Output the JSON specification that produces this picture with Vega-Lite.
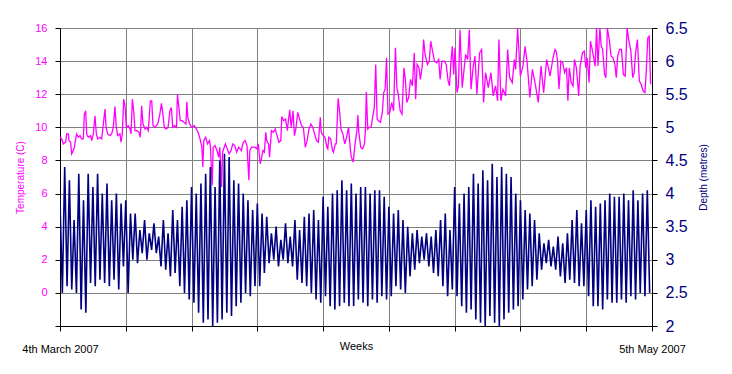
{
  "$schema": "https://vega.github.io/schema/vega-lite/v6.json",
  "width": 592,
  "height": 298,
  "autosize": {"type": "none"},
  "padding": {"left": 60, "top": 28, "right": 80, "bottom": 48},
  "background": "#ffffff",
  "config": {"view": {"stroke": null}, "font": "Liberation Sans"},
  "datasets": {
    "temp": [
      {"day":0,"temp":9.4},{"day":0.18,"temp":9.3},{"day":0.35,"temp":9.0},{"day":0.6,"temp":9.1},{"day":0.71,"temp":9.6},{"day":0.89,"temp":9.6},{"day":0.96,"temp":9.2},{"day":1.13,"temp":9.1},{"day":1.24,"temp":8.4},{"day":1.42,"temp":8.6},{"day":1.53,"temp":8.8},{"day":1.67,"temp":9.3},{"day":1.77,"temp":9.6},{"day":1.95,"temp":9.4},{"day":2.13,"temp":9.5},{"day":2.3,"temp":9.3},{"day":2.48,"temp":9.3},{"day":2.59,"temp":10.8},{"day":2.73,"temp":11.0},{"day":2.84,"temp":9.6},{"day":3.01,"temp":9.4},{"day":3.26,"temp":9.5},{"day":3.37,"temp":9.2},{"day":3.55,"temp":9.6},{"day":3.72,"temp":10.7},{"day":3.87,"temp":9.6},{"day":4.01,"temp":9.3},{"day":4.26,"temp":9.4},{"day":4.44,"temp":9.3},{"day":4.61,"temp":10.2},{"day":4.79,"temp":11.1},{"day":4.9,"temp":10.0},{"day":5.07,"temp":9.6},{"day":5.32,"temp":9.5},{"day":5.5,"temp":9.6},{"day":5.67,"temp":10.0},{"day":5.85,"temp":11.25},{"day":5.99,"temp":10.0},{"day":6.14,"temp":9.5},{"day":6.38,"temp":9.6},{"day":6.49,"temp":9.1},{"day":6.63,"temp":9.6},{"day":6.78,"temp":11.7},{"day":6.92,"temp":11.3},{"day":7.06,"temp":10.0},{"day":7.27,"temp":10.1},{"day":7.45,"temp":9.9},{"day":7.56,"temp":9.6},{"day":7.7,"temp":11.7},{"day":7.84,"temp":11.0},{"day":7.98,"temp":9.8},{"day":8.19,"temp":9.8},{"day":8.41,"temp":9.7},{"day":8.55,"temp":9.4},{"day":8.69,"temp":11.3},{"day":8.83,"temp":10.2},{"day":9.05,"temp":9.9},{"day":9.22,"temp":10.0},{"day":9.4,"temp":9.8},{"day":9.61,"temp":11.6},{"day":9.76,"temp":11.6},{"day":9.9,"temp":10.1},
      {"day":10.11,"temp":10.0},{"day":10.4,"temp":10.2},{"day":10.6,"temp":10.7},{"day":10.8,"temp":11.45},{"day":10.95,"temp":10.8},{"day":11.1,"temp":10.0},{"day":11.3,"temp":9.9},{"day":11.5,"temp":10.0},{"day":11.7,"temp":11.0},{"day":11.85,"temp":11.2},{"day":12.0,"temp":10.0},{"day":12.2,"temp":10.1},{"day":12.4,"temp":10.0},{"day":12.5,"temp":12.0},{"day":12.6,"temp":11.5},{"day":12.8,"temp":10.4},{"day":13.0,"temp":10.4},{"day":13.2,"temp":10.3},{"day":13.4,"temp":10.2},{"day":13.5,"temp":11.55},{"day":13.6,"temp":10.6},{"day":13.8,"temp":10.2},{"day":14.0,"temp":10.0},{"day":14.3,"temp":10.1},{"day":14.5,"temp":9.9},{"day":14.7,"temp":9.7},{"day":14.9,"temp":9.3},{"day":15.1,"temp":8.8},{"day":15.2,"temp":7.6},{"day":15.3,"temp":9.2},{"day":15.5,"temp":9.4},{"day":15.7,"temp":9.0},{"day":15.9,"temp":9.2},{"day":16.0,"temp":8.9},{"day":16.2,"temp":6.5},{"day":16.3,"temp":8.8},{"day":16.5,"temp":8.9},{"day":16.7,"temp":8.6},{"day":16.9,"temp":8.2},{"day":17.0,"temp":8.8},{"day":17.2,"temp":6.4},{"day":17.3,"temp":8.5},{"day":17.6,"temp":9.0},{"day":17.8,"temp":8.7},{"day":18.0,"temp":8.4},{"day":18.2,"temp":8.6},{"day":18.4,"temp":9.0},{"day":18.6,"temp":8.9},{"day":18.8,"temp":8.5},{"day":19.0,"temp":8.8},{"day":19.3,"temp":8.6},{"day":19.5,"temp":9.1},{"day":19.7,"temp":9.2},{"day":19.9,"temp":8.9},{"day":20.1,"temp":6.8},{"day":20.2,"temp":8.6},{"day":20.4,"temp":8.8},{"day":20.6,"temp":8.8},
      {"day":20.75,"temp":8.8},{"day":20.95,"temp":8.7},{"day":21.1,"temp":9.0},{"day":21.3,"temp":7.8},{"day":21.4,"temp":8.0},{"day":21.6,"temp":8.6},{"day":21.75,"temp":8.5},{"day":21.9,"temp":9.7},{"day":22.0,"temp":9.2},{"day":22.2,"temp":9.0},{"day":22.3,"temp":8.2},{"day":22.5,"temp":9.8},{"day":22.7,"temp":9.7},{"day":22.9,"temp":9.9},{"day":23.1,"temp":9.5},{"day":23.3,"temp":9.1},{"day":23.5,"temp":9.2},{"day":23.6,"temp":10.65},{"day":23.8,"temp":10.4},{"day":24.0,"temp":10.5},{"day":24.2,"temp":9.8},{"day":24.3,"temp":10.4},{"day":24.45,"temp":11.05},{"day":24.6,"temp":10.0},{"day":24.8,"temp":11.0},{"day":24.95,"temp":9.5},{"day":25.1,"temp":9.9},{"day":25.3,"temp":10.9},{"day":25.5,"temp":10.5},{"day":25.7,"temp":10.1},{"day":25.9,"temp":10.0},{"day":26.1,"temp":8.8},{"day":26.3,"temp":9.2},{"day":26.5,"temp":9.9},{"day":26.7,"temp":10.2},{"day":26.9,"temp":10.0},{"day":27.1,"temp":9.6},{"day":27.3,"temp":9.2},{"day":27.5,"temp":9.1},{"day":27.7,"temp":10.6},{"day":27.8,"temp":9.7},{"day":28.0,"temp":9.5},{"day":28.2,"temp":9.4},{"day":28.4,"temp":8.8},{"day":28.5,"temp":8.7},{"day":28.6,"temp":9.4},{"day":28.8,"temp":9.3},{"day":29.0,"temp":8.6},{"day":29.1,"temp":8.5},{"day":29.3,"temp":9.0},{"day":29.4,"temp":9.0},{"day":29.6,"temp":11.75},{"day":29.75,"temp":11.0},{"day":29.9,"temp":9.9},{"day":30.1,"temp":9.6},{"day":30.3,"temp":9.0},{"day":30.5,"temp":9.4},{"day":30.7,"temp":10.0},{"day":30.9,"temp":8.7},{"day":31.0,"temp":8.2},{"day":31.2,"temp":7.9},{"day":31.4,"temp":9.0},
      {"day":31.6,"temp":9.8},{"day":31.7,"temp":10.75},{"day":31.8,"temp":9.7},{"day":32.0,"temp":8.8},{"day":32.2,"temp":8.7},{"day":32.4,"temp":9.0},{"day":32.5,"temp":9.8},{"day":32.6,"temp":12.15},{"day":32.75,"temp":9.9},{"day":32.9,"temp":10.0},{"day":33.1,"temp":10.0},{"day":33.3,"temp":10.7},{"day":33.45,"temp":11.2},{"day":33.6,"temp":13.8},{"day":33.75,"temp":10.5},{"day":33.9,"temp":10.4},{"day":34.1,"temp":10.3},{"day":34.3,"temp":10.9},{"day":34.45,"temp":12.1},{"day":34.6,"temp":12.3},{"day":34.75,"temp":14.2},{"day":34.9,"temp":10.8},{"day":35.1,"temp":10.9},{"day":35.3,"temp":11.5},{"day":35.5,"temp":11.0},{"day":35.7,"temp":14.8},{"day":35.85,"temp":12.4},{"day":36.0,"temp":12.0},{"day":36.2,"temp":11.0},{"day":36.4,"temp":10.8},{"day":36.6,"temp":13.6},{"day":36.75,"temp":12.9},{"day":36.9,"temp":11.5},{"day":37.1,"temp":11.8},{"day":37.3,"temp":12.9},{"day":37.5,"temp":12.5},{"day":37.7,"temp":14.5},{"day":37.85,"temp":11.7},{"day":38.0,"temp":13.8},{"day":38.2,"temp":13.6},{"day":38.35,"temp":12.9},{"day":38.55,"temp":13.7},{"day":38.7,"temp":15.3},{"day":38.85,"temp":14.4},{"day":39.1,"temp":13.8},{"day":39.3,"temp":14.0},{"day":39.45,"temp":15.2},{"day":39.65,"temp":14.6},{"day":39.85,"temp":14.0},{"day":40.1,"temp":13.9},{"day":40.3,"temp":14.1},{"day":40.45,"temp":12.9},{"day":40.65,"temp":14.0},{"day":40.9,"temp":14.0},{"day":41.1,"temp":13.8},{"day":41.3,"temp":12.8},{"day":41.45,"temp":12.5},{"day":41.6,"temp":13.9},{"day":41.75,"temp":14.9},{"day":41.9,"temp":13.2},{"day":42.03,"temp":14.8},
      {"day":42.25,"temp":12.1},{"day":42.4,"temp":12.5},{"day":42.57,"temp":15.9},{"day":42.8,"temp":12.4},{"day":43.0,"temp":13.5},{"day":43.17,"temp":14.4},{"day":43.38,"temp":14.1},{"day":43.56,"temp":15.9},{"day":43.74,"temp":12.3},{"day":43.98,"temp":13.7},{"day":44.16,"temp":14.3},{"day":44.37,"temp":12.0},{"day":44.65,"temp":14.5},{"day":44.87,"temp":14.7},{"day":45.08,"temp":11.5},{"day":45.29,"temp":13.3},{"day":45.58,"temp":12.4},{"day":45.86,"temp":13.3},{"day":46.1,"temp":11.9},{"day":46.35,"temp":12.5},{"day":46.57,"temp":11.6},{"day":46.71,"temp":15.3},{"day":46.92,"temp":11.6},{"day":47.14,"temp":12.3},{"day":47.42,"temp":11.9},{"day":47.64,"temp":14.7},{"day":47.85,"temp":13.0},{"day":48.13,"temp":12.7},{"day":48.35,"temp":14.1},{"day":48.49,"temp":13.5},{"day":48.7,"temp":16.0},{"day":48.99,"temp":13.1},{"day":49.27,"temp":13.7},{"day":49.49,"temp":14.9},{"day":49.7,"temp":14.0},{"day":50.0,"temp":11.8},{"day":50.27,"temp":13.5},{"day":50.55,"temp":12.7},{"day":50.9,"temp":11.5},{"day":51.19,"temp":13.7},{"day":51.47,"temp":12.1},{"day":51.79,"temp":14.1},{"day":52.15,"temp":13.1},{"day":52.47,"temp":14.2},{"day":52.68,"temp":14.7},
      {"day":52.8,"temp":14.6},{"day":52.95,"temp":14.0},{"day":53.1,"temp":12.3},{"day":53.3,"temp":14.0},{"day":53.5,"temp":13.9},{"day":53.7,"temp":13.3},{"day":53.9,"temp":13.6},{"day":54.05,"temp":11.6},{"day":54.2,"temp":13.6},{"day":54.4,"temp":12.7},{"day":54.6,"temp":12.5},{"day":54.75,"temp":14.1},{"day":54.95,"temp":13.6},{"day":55.1,"temp":12.6},{"day":55.2,"temp":11.9},{"day":55.35,"temp":13.7},{"day":55.6,"temp":14.5},{"day":55.8,"temp":14.6},{"day":55.95,"temp":13.6},{"day":56.1,"temp":14.2},{"day":56.3,"temp":12.7},{"day":56.45,"temp":15.2},{"day":56.6,"temp":14.8},{"day":56.8,"temp":14.2},{"day":56.95,"temp":13.7},{"day":57.1,"temp":16.0},{"day":57.25,"temp":13.7},{"day":57.45,"temp":16.0},{"day":57.6,"temp":14.9},{"day":57.75,"temp":14.7},{"day":57.95,"temp":13.2},{"day":58.1,"temp":13.0},{"day":58.25,"temp":16.0},{"day":58.45,"temp":15.3},{"day":58.65,"temp":14.3},{"day":58.85,"temp":14.2},{"day":59.05,"temp":13.8},{"day":59.2,"temp":13.0},{"day":59.35,"temp":14.3},{"day":59.55,"temp":14.7},{"day":59.75,"temp":14.7},{"day":59.95,"temp":13.2},{"day":60.15,"temp":13.1},{"day":60.35,"temp":16.0},{"day":60.55,"temp":15.2},{"day":60.75,"temp":14.6},{"day":60.95,"temp":13.0},{"day":61.1,"temp":13.3},{"day":61.25,"temp":14.5},{"day":61.45,"temp":15.3},{"day":61.65,"temp":12.8},{"day":61.85,"temp":12.6},{"day":62.05,"temp":12.2},{"day":62.25,"temp":12.1},{"day":62.4,"temp":13.5},{"day":62.55,"temp":15.4},{"day":62.7,"temp":15.5},{"day":62.85,"temp":12.6}
    ],
    "depth": [
      {"day":0,"depth":3.9},{"day":0.25,"depth":2.5},{"day":0.5,"depth":4.4},{"day":0.75,"depth":2.6},
      {"day":1,"depth":4.2},{"day":1.25,"depth":2.55},{"day":1.5,"depth":3.6},{"day":1.75,"depth":2.5},
      {"day":2,"depth":4.3},{"day":2.25,"depth":2.25},{"day":2.5,"depth":3.9},{"day":2.75,"depth":2.2},
      {"day":3,"depth":4.3},{"day":3.25,"depth":2.65},{"day":3.5,"depth":4.1},{"day":3.75,"depth":2.6},
      {"day":4,"depth":4.3},{"day":4.25,"depth":2.7},{"day":4.5,"depth":4.0},{"day":4.75,"depth":2.65},
      {"day":5,"depth":4.15},{"day":5.25,"depth":2.6},{"day":5.5,"depth":3.9},{"day":5.75,"depth":2.7},
      {"day":6,"depth":4.0},{"day":6.25,"depth":2.55},{"day":6.5,"depth":3.85},{"day":6.75,"depth":2.9},
      {"day":7,"depth":3.9},{"day":7.25,"depth":2.5},{"day":7.5,"depth":3.7},{"day":7.75,"depth":3.0},
      {"day":8,"depth":3.7},{"day":8.25,"depth":2.95},{"day":8.5,"depth":3.45},{"day":8.75,"depth":3.1},
      {"day":9,"depth":3.6},{"day":9.25,"depth":3.0},{"day":9.5,"depth":3.4},{"day":9.75,"depth":3.15},
      {"day":10,"depth":3.55},{"day":10.25,"depth":3.1},{"day":10.5,"depth":3.35},{"day":10.75,"depth":2.9},
      {"day":11,"depth":3.6},{"day":11.25,"depth":2.85},{"day":11.5,"depth":3.4},{"day":11.75,"depth":2.75},
      {"day":12,"depth":3.75},{"day":12.25,"depth":2.8},{"day":12.5,"depth":3.6},{"day":12.75,"depth":2.6},
      {"day":13,"depth":3.8},{"day":13.25,"depth":2.5},{"day":13.5,"depth":3.9},{"day":13.75,"depth":2.4},
      {"day":14,"depth":4.1},{"day":14.25,"depth":2.35},{"day":14.5,"depth":4.0},{"day":14.75,"depth":2.2},
      {"day":15,"depth":4.15},{"day":15.25,"depth":2.05},{"day":15.5,"depth":4.3},{"day":15.75,"depth":2.1},
      {"day":16,"depth":4.4},{"day":16.25,"depth":2.0},{"day":16.5,"depth":4.1},{"day":16.75,"depth":2.05},
      {"day":17,"depth":4.5},{"day":17.25,"depth":2.1},{"day":17.5,"depth":4.6},{"day":17.75,"depth":2.2},
      {"day":18,"depth":4.55},{"day":18.25,"depth":2.15},{"day":18.5,"depth":4.2},{"day":18.75,"depth":2.3},
      {"day":19,"depth":4.15},{"day":19.25,"depth":2.35},{"day":19.5,"depth":4.0},{"day":19.75,"depth":2.5},
      {"day":20,"depth":3.9},{"day":20.25,"depth":2.45},{"day":20.5,"depth":3.75},{"day":20.75,"depth":2.6},
      {"day":21,"depth":3.85},{"day":21.25,"depth":2.6},{"day":21.5,"depth":3.7},{"day":21.75,"depth":2.8},
      {"day":22,"depth":3.65},{"day":22.25,"depth":2.95},{"day":22.5,"depth":3.4},{"day":22.75,"depth":3.0},
      {"day":23,"depth":3.5},{"day":23.25,"depth":2.9},{"day":23.5,"depth":3.3},{"day":23.75,"depth":3.0},
      {"day":24,"depth":3.55},{"day":24.25,"depth":2.95},{"day":24.5,"depth":3.35},{"day":24.75,"depth":2.9},
      {"day":25,"depth":3.6},{"day":25.25,"depth":2.7},{"day":25.5,"depth":3.45},{"day":25.75,"depth":2.65},
      {"day":26,"depth":3.65},{"day":26.25,"depth":2.6},{"day":26.5,"depth":3.7},{"day":26.75,"depth":2.5},
      {"day":27,"depth":3.75},{"day":27.25,"depth":2.4},{"day":27.5,"depth":3.6},{"day":27.75,"depth":2.35},
      {"day":28,"depth":3.95},{"day":28.25,"depth":2.45},{"day":28.5,"depth":3.8},{"day":28.75,"depth":2.3},
      {"day":29,"depth":4.0},{"day":29.25,"depth":2.25},{"day":29.5,"depth":4.05},{"day":29.75,"depth":2.3},
      {"day":30,"depth":4.2},{"day":30.25,"depth":2.35},{"day":30.5,"depth":4.05},{"day":30.75,"depth":2.3},
      {"day":31,"depth":4.15},{"day":31.25,"depth":2.3},{"day":31.5,"depth":4.0},{"day":31.75,"depth":2.4},
      {"day":32,"depth":4.1},{"day":32.25,"depth":2.35},{"day":32.5,"depth":4.1},{"day":32.75,"depth":2.3},
      {"day":33,"depth":4.0},{"day":33.25,"depth":2.4},{"day":33.5,"depth":4.05},{"day":33.75,"depth":2.35},
      {"day":34,"depth":4.05},{"day":34.25,"depth":2.45},{"day":34.5,"depth":3.95},{"day":34.75,"depth":2.4},
      {"day":35,"depth":3.8},{"day":35.25,"depth":2.45},{"day":35.5,"depth":3.7},{"day":35.75,"depth":2.6},
      {"day":36,"depth":3.75},{"day":36.25,"depth":2.55},{"day":36.5,"depth":3.6},{"day":36.75,"depth":2.5},
      {"day":37,"depth":3.5},{"day":37.25,"depth":2.75},{"day":37.5,"depth":3.4},{"day":37.75,"depth":2.85},
      {"day":38,"depth":3.45},{"day":38.25,"depth":2.95},{"day":38.5,"depth":3.35},{"day":38.75,"depth":3.0},
      {"day":39,"depth":3.4},{"day":39.25,"depth":2.9},{"day":39.5,"depth":3.35},{"day":39.75,"depth":2.8},
      {"day":40,"depth":3.45},{"day":40.25,"depth":2.75},{"day":40.5,"depth":3.6},{"day":40.75,"depth":2.6},
      {"day":41,"depth":3.7},{"day":41.25,"depth":2.45},{"day":41.5,"depth":3.45},{"day":41.75,"depth":2.55},
      {"day":42,"depth":4.1},{"day":42.25,"depth":2.45},{"day":42.5,"depth":3.85},{"day":42.75,"depth":2.3},
      {"day":43,"depth":4.0},{"day":43.25,"depth":2.2},{"day":43.5,"depth":4.1},{"day":43.75,"depth":2.25},
      {"day":44,"depth":4.3},{"day":44.25,"depth":2.1},{"day":44.5,"depth":4.15},{"day":44.75,"depth":2.05},
      {"day":45,"depth":4.35},{"day":45.25,"depth":2.0},{"day":45.5,"depth":4.2},{"day":45.75,"depth":2.15},
      {"day":46,"depth":4.45},{"day":46.25,"depth":2.05},{"day":46.5,"depth":4.25},{"day":46.75,"depth":2.0},
      {"day":47,"depth":4.4},{"day":47.25,"depth":2.1},{"day":47.5,"depth":4.3},{"day":47.75,"depth":2.2},
      {"day":48,"depth":4.25},{"day":48.25,"depth":2.25},{"day":48.5,"depth":4.0},{"day":48.75,"depth":2.3},
      {"day":49,"depth":3.9},{"day":49.25,"depth":2.4},{"day":49.5,"depth":3.75},{"day":49.75,"depth":2.55},
      {"day":50,"depth":3.7},{"day":50.25,"depth":2.6},{"day":50.5,"depth":3.6},{"day":50.75,"depth":2.7},
      {"day":51,"depth":3.4},{"day":51.25,"depth":2.85},{"day":51.5,"depth":3.25},{"day":51.75,"depth":2.95},
      {"day":52,"depth":3.3},{"day":52.25,"depth":2.9},{"day":52.5,"depth":3.2},{"day":52.75,"depth":2.85},
      {"day":53,"depth":3.35},{"day":53.25,"depth":2.75},{"day":53.5,"depth":3.25},{"day":53.75,"depth":2.65},
      {"day":54,"depth":3.4},{"day":54.25,"depth":2.7},{"day":54.5,"depth":3.6},{"day":54.75,"depth":2.65},
      {"day":55,"depth":3.75},{"day":55.25,"depth":2.6},{"day":55.5,"depth":3.55},{"day":55.75,"depth":2.6},
      {"day":56,"depth":3.75},{"day":56.25,"depth":2.45},{"day":56.5,"depth":3.9},{"day":56.75,"depth":2.3},
      {"day":57,"depth":3.8},{"day":57.25,"depth":2.3},{"day":57.5,"depth":3.85},{"day":57.75,"depth":2.25},
      {"day":58,"depth":3.9},{"day":58.25,"depth":2.4},{"day":58.5,"depth":4.0},{"day":58.75,"depth":2.35},
      {"day":59,"depth":3.95},{"day":59.25,"depth":2.35},{"day":59.5,"depth":3.95},{"day":59.75,"depth":2.4},
      {"day":60,"depth":4.0},{"day":60.25,"depth":2.35},{"day":60.5,"depth":3.9},{"day":60.75,"depth":2.45},
      {"day":61,"depth":4.05},{"day":61.25,"depth":2.4},{"day":61.5,"depth":3.9},{"day":61.75,"depth":2.5},
      {"day":62,"depth":4.0},{"day":62.25,"depth":2.45},{"day":62.5,"depth":4.05},{"day":62.75,"depth":2.5}
    ]
  },
  "layer": [
    {
      "data": {"name": "temp"},
      "mark": {"type": "line", "color": "#FF00FF", "strokeWidth": 1.3, "clip": true},
      "encoding": {
        "x": {
          "field": "day", "type": "quantitative",
          "scale": {"domain": [0, 63], "nice": false, "zero": false},
          "axis": {
            "values": [0, 7, 14, 21, 28, 35, 42, 49, 56, 63],
            "labelExpr": "datum.value == 0 ? '4th March 2007' : (datum.value == 63 ? '5th May 2007' : '')",
            "labelFlush": false, "labelOverlap": false,
            "labelFont": "Liberation Sans", "labelFontSize": 11, "labelColor": "#000000", "labelPadding": 12,
            "domainColor": "#000000", "domainWidth": 1, "tickColor": "#000000", "tickSize": 5,
            "grid": true, "gridColor": "#808080", "gridWidth": 1,
            "title": "Weeks", "titleFont": "Liberation Sans", "titleFontSize": 11, "titleFontWeight": "normal",
            "titleColor": "#000000", "titleY": 20, "titleBaseline": "middle"
          }
        },
        "y": {
          "field": "temp", "type": "quantitative",
          "scale": {"domain": [-2, 16], "nice": false, "zero": false},
          "axis": {
            "orient": "left",
            "values": [-2, 0, 2, 4, 6, 8, 10, 12, 14, 16],
            "labelExpr": "datum.value < 0 ? '' : datum.label",
            "labelFont": "Liberation Sans", "labelFontSize": 11, "labelColor": "#FF00FF", "labelPadding": 8,
            "domainColor": "#000000", "tickColor": "#000000", "tickSize": 5,
            "grid": true, "gridColor": "#808080", "gridWidth": 1,
            "title": "Temperature (C)", "titleFont": "Liberation Sans", "titleFontSize": 10, "titleFontWeight": "normal",
            "titleColor": "#FF00FF", "titleX": -40, "titleY": 149, "titleAngle": 270, "titleAlign": "center", "titleBaseline": "middle"
          }
        }
      }
    },
    {
      "data": {"name": "depth"},
      "mark": {"type": "line", "color": "#000080", "strokeWidth": 1.6, "clip": true},
      "encoding": {
        "x": {"field": "day", "type": "quantitative"},
        "y": {
          "field": "depth", "type": "quantitative",
          "scale": {"domain": [2, 6.5], "nice": false, "zero": false},
          "axis": {
            "orient": "right",
            "values": [2, 2.5, 3, 3.5, 4, 4.5, 5, 5.5, 6, 6.5],
            "format": "~g",
            "labelFont": "Liberation Sans", "labelFontSize": 16, "labelColor": "#000080", "labelPadding": 8,
            "domainColor": "#000000", "tickColor": "#000000", "tickSize": 5,
            "grid": false,
            "title": "Depth (metres)", "titleFont": "Liberation Sans", "titleFontSize": 10, "titleFontWeight": "normal",
            "titleColor": "#000080", "titleX": 51, "titleY": 149, "titleAngle": 270, "titleAlign": "center", "titleBaseline": "middle"
          }
        }
      }
    }
  ],
  "resolve": {"scale": {"y": "independent"}}
}
